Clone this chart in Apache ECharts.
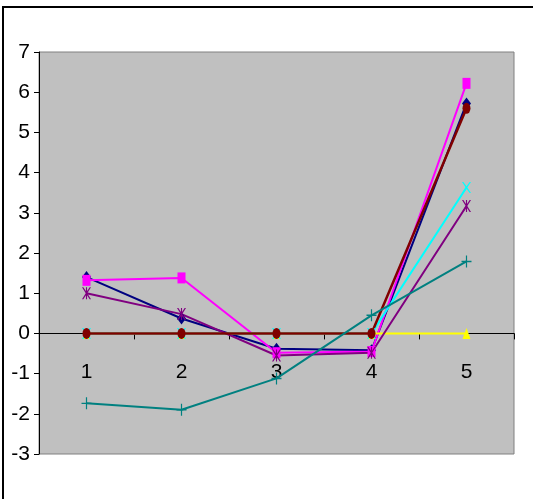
<!DOCTYPE html>
<html><head><meta charset="utf-8">
<script src="https://cdn.jsdelivr.net/npm/echarts@6/dist/echarts.min.js"></script>
<style>html,body{margin:0;padding:0;background:#fff}#c{width:533px;height:499px}</style>
</head><body><div id="c"></div>
<script>
const categories = ['1','2','3','4','5'];
const yTicks = [-3,-2,-1,0,1,2,3,4,5,6,7];
const sNavy    = [1.4, 0.37, -0.38, -0.42, 5.72];
const sMagenta = [1.32, 1.38, -0.48, -0.45, 6.22];
const sYellow  = [0, 0, 0, 0, 0];
const sCyan    = [0, 0, 0, 0, 3.63];
const sPurple  = [1.0, 0.48, -0.55, -0.48, 3.17];
const sBrown   = [0, 0, 0, 0, 5.6];
const sTeal    = [-1.74, -1.9, -1.12, 0.45, 1.79];

const PLUS = 'path://M4.4,0H5.6V4.4H10V5.6H5.6V10H4.4V5.6H0V4.4H4.4Z';
const XS = 'path://M0,0L1.5,0L5,3.9L8.5,0L10,0L5.9,5L10,10L8.5,10L5,6.1L1.5,10L0,10L4.1,5Z';
const STAR = 'path://M0,0L1.5,0L5,3.9L8.5,0L10,0L5.9,5L10,10L8.5,10L5,6.1L1.5,10L0,10L4.1,5ZM4.4,0H5.6V10H4.4Z';

function mk(name, data, color, symbol, size, width) {
  return {
    name, type: 'line', data, symbol, symbolSize: size,
    symbolKeepAspect: false,
    lineStyle: { color, width: width || 2 },
    itemStyle: { color },
    emphasis: { disabled: true },
    animation: false
  };
}
const font = '"Liberation Sans Narrow", "Liberation Sans", Arial, sans-serif';
const chart = echarts.init(document.getElementById('c'));
chart.setOption({
  animation: false,
  graphic: [{ type: 'rect', shape: { x: 3, y: 7, width: 560, height: 520 }, style: { fill: 'none', stroke: '#000', lineWidth: 2 }, z: -10 }],
  grid: { left: 39, right: 19, top: 52, bottom: 45, show: true, backgroundColor: '#c0c0c0', borderColor: '#808080', borderWidth: 1 },
  xAxis: {
    type: 'category', data: categories, boundaryGap: true,
    axisLine: { onZero: true, lineStyle: { color: '#000', width: 1 } },
    axisTick: { show: true, length: 6, lineStyle: { color: '#000' } },
    axisLabel: { margin: -92, fontSize: 21, color: '#000', fontFamily: font },
    splitLine: { show: false }
  },
  yAxis: {
    type: 'value', min: yTicks[0], max: yTicks[yTicks.length - 1], interval: 1,
    axisLine: { show: true, lineStyle: { color: '#000', width: 1 } },
    axisTick: { show: true, length: 5, lineStyle: { color: '#000' } },
    axisLabel: { margin: 9, fontSize: 21, color: '#000', fontFamily: font },
    splitLine: { show: false }
  },
  series: [
    mk('S1', sNavy, '#000080', 'diamond', [9, 12]),
    mk('S2', sMagenta, '#ff00ff', 'rect', [8, 11]),
    mk('S3', sYellow, '#ffff00', 'triangle', [8, 11]),
    mk('S4', sCyan, '#00ffff', XS, [9, 11]),
    mk('S5', sPurple, '#800080', STAR, [9, 12]),
    mk('S6', sBrown, '#800000', 'circle', [8, 11], 2.5),
    mk('S7', sTeal, '#008080', PLUS, [10, 12])
  ]
});
</script></body></html>
